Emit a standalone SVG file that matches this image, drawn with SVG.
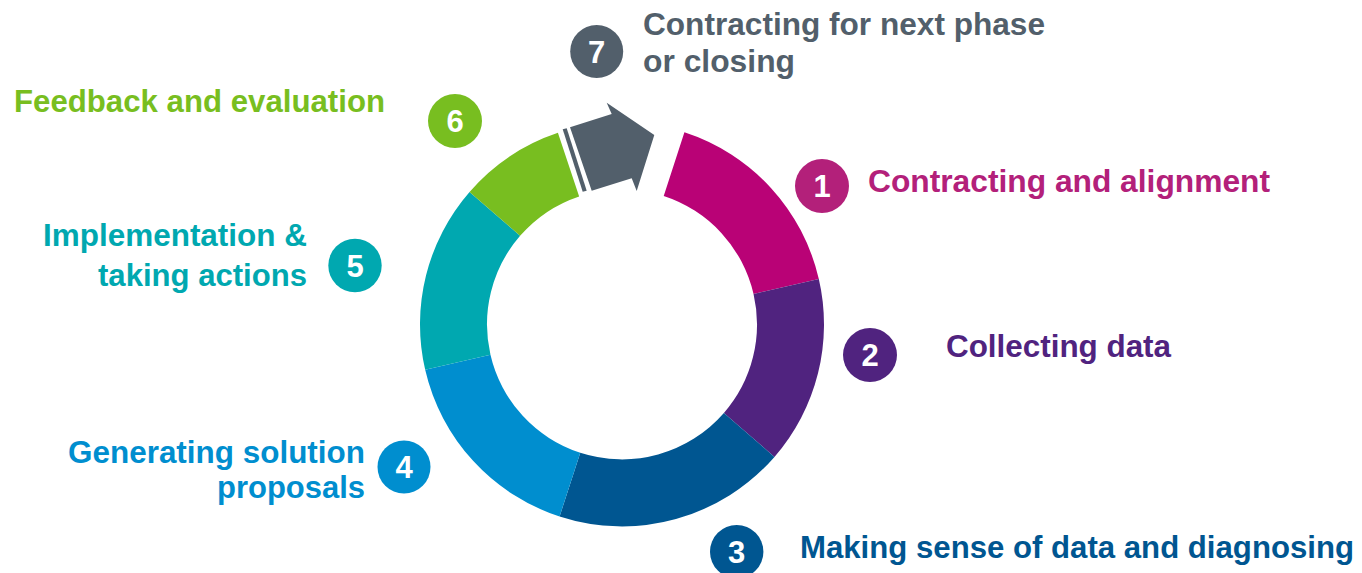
<svg xmlns="http://www.w3.org/2000/svg" width="1362" height="573" viewBox="0 0 1362 573">
<style>
.lbl{font-family:"Liberation Sans",Arial,sans-serif;font-weight:bold;font-size:32px}
.num{font-family:"Liberation Sans",Arial,sans-serif;font-weight:bold;font-size:31px;fill:#fff;text-anchor:middle}
</style>
<rect width="1362" height="573" fill="#fff"/>
<g id="ring">
<path id="seg1" fill="#B90276" d="M684.42,132.29 A202,202 0 0 1 818.82,278.96 L753.54,294.03 A135,135 0 0 0 663.72,196.01 Z"/>
<path id="seg2" fill="#50237F" d="M818.82,278.96 A202,202 0 0 1 774.45,456.92 L723.89,412.97 A135,135 0 0 0 753.54,294.03 Z"/>
<path id="seg3" fill="#005691" d="M774.45,456.92 A202,202 0 0 1 559.58,516.51 L580.28,452.79 A135,135 0 0 0 723.89,412.97 Z"/>
<path id="seg4" fill="#008ECF" d="M559.58,516.51 A202,202 0 0 1 425.18,369.84 L490.46,354.77 A135,135 0 0 0 580.28,452.79 Z"/>
<path id="seg5" fill="#00A8B0" d="M425.18,369.84 A202,202 0 0 1 469.55,191.88 L520.11,235.83 A135,135 0 0 0 490.46,354.77 Z"/>
<path id="seg6" fill="#78BE20" d="M469.55,191.88 A202,202 0 0 1 557.91,132.84 L579.16,196.38 A135,135 0 0 0 520.11,235.83 Z"/>
<polygon id="stripe" fill="#525F6B" points="562.7,129.3 566.7,128.3 586.7,190.7 582.7,191.7"/>
<polygon id="arrow7" fill="#525F6B" points="570,127.3 611.7,114 606.7,102.7 654.3,135 636.7,191 631.7,178.3 591.7,190.7"/>
</g>
<g id="node1">
<circle cx="822" cy="186" r="27" fill="#B3207A"/>
<text class="num" x="822" y="197">1</text>
<text class="lbl" x="868" y="192" fill="#B3207A" textLength="402" lengthAdjust="spacingAndGlyphs">Contracting and alignment</text>
</g>
<g id="node2">
<circle cx="870" cy="355" r="27" fill="#50237F"/>
<text class="num" x="870" y="366">2</text>
<text class="lbl" x="946" y="357" fill="#50237F" textLength="225" lengthAdjust="spacingAndGlyphs">Collecting data</text>
</g>
<g id="node3">
<circle cx="736.7" cy="551.7" r="26.7" fill="#005691"/>
<text class="num" x="736.7" y="562.5">3</text>
<text class="lbl" x="800" y="558" fill="#005691" font-size="31" textLength="554" lengthAdjust="spacingAndGlyphs">Making sense of data and diagnosing</text>
</g>
<g id="node4">
<circle cx="404" cy="467" r="26.5" fill="#008ECF"/>
<text class="num" x="404" y="478">4</text>
<text class="lbl" x="365" y="463" fill="#008ECF" text-anchor="end" textLength="297" lengthAdjust="spacingAndGlyphs">Generating solution</text>
<text class="lbl" x="365" y="498" fill="#008ECF" text-anchor="end" textLength="148" lengthAdjust="spacingAndGlyphs">proposals</text>
</g>
<g id="node5">
<circle cx="355" cy="265.5" r="26.7" fill="#00A8B0"/>
<text class="num" x="355" y="276.5">5</text>
<text class="lbl" x="307" y="246" fill="#00A8B0" text-anchor="end" textLength="264" lengthAdjust="spacingAndGlyphs">Implementation &amp;</text>
<text class="lbl" x="307" y="286" fill="#00A8B0" text-anchor="end" textLength="209" lengthAdjust="spacingAndGlyphs">taking actions</text>
</g>
<g id="node6">
<circle cx="455" cy="121" r="27" fill="#78BE20"/>
<text class="num" x="455" y="132">6</text>
<text class="lbl" x="14" y="112" fill="#78BE20" textLength="371" lengthAdjust="spacingAndGlyphs">Feedback and evaluation</text>
</g>
<g id="node7">
<circle cx="596.7" cy="51.5" r="26.5" fill="#525F6B"/>
<text class="num" x="596.7" y="62.5">7</text>
<text class="lbl" x="643" y="35" fill="#525F6B" textLength="402" lengthAdjust="spacingAndGlyphs">Contracting for next phase</text>
<text class="lbl" x="643" y="72" fill="#525F6B" textLength="152" lengthAdjust="spacingAndGlyphs">or closing</text>
</g>
<g id="connectors"/>
</svg>
